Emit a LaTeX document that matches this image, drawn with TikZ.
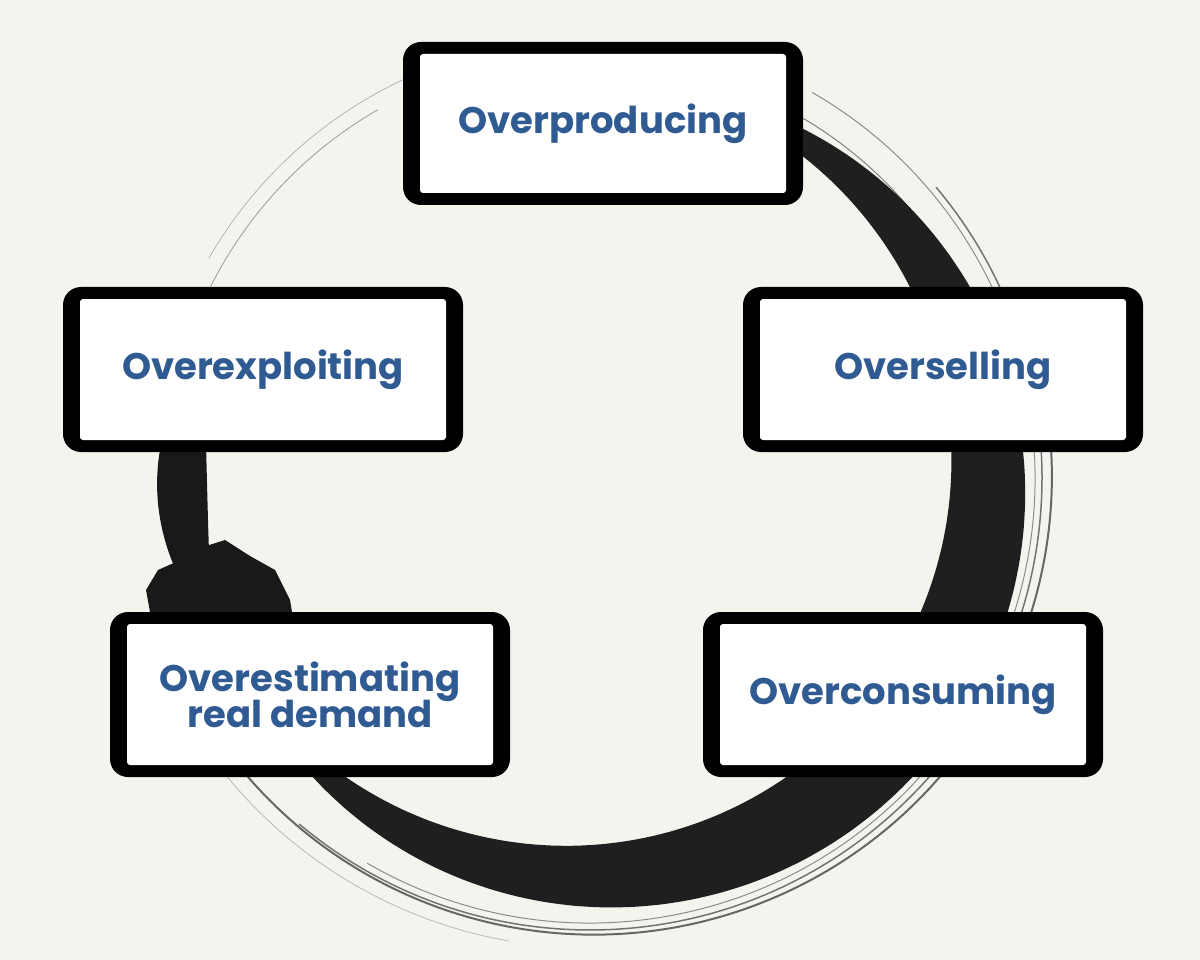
\documentclass[tikz,border=0pt]{standalone}
\usepackage{fontspec}
\setmainfont{Poppins}
\begin{document}
\begin{tikzpicture}[x=1pt,y=-1pt,
  ink/.style={draw=black!88,line cap=round},
  boxlbl/.style={font=\bfseries\fontsize{37}{42}\selectfont,text=blueT,align=center},
  ]
\definecolor{blueT}{HTML}{2F5A92}
\definecolor{bg}{HTML}{F4F4EF}
\fill[bg] (0,0) rectangle (1200,960);
\useasboundingbox (0,0) rectangle (1200,960);
% enso strokes (center 590,478)
\begin{scope}[shift={(590,478)},yscale=-1]
\draw[ink,black!40,line width=0.8] (120:425) arc[start angle=120,end angle=155,radius=425];
\draw[ink,black!35,line width=0.6] (112:440) arc[start angle=112,end angle=150,radius=440];
\draw[ink,black!50,line width=1] (70:418) arc[start angle=70,end angle=-110,radius=418];
\draw[ink,black!45,line width=1] (60:445) arc[start angle=60,end angle=-120,radius=445];
\draw[ink,black!55,line width=1.5] (40:452) arc[start angle=40,end angle=-130,radius=452];
\draw[ink,black!60,line width=2] (20:462) arc[start angle=20,end angle=-140,radius=458];
\draw[ink,black!30,line width=0.7] (-100:470) arc[start angle=-100,end angle=-160,radius=470];
\draw[ink,black!40,line width=0.8] (200:440) arc[start angle=200,end angle=215,radius=440];
% main tapered stroke
\fill[black!88] plot[smooth,samples=60,domain=78:-150] (\x:{398+42*sin((78-\x)*0.7895)})
  -- plot[smooth,samples=60,domain=-150:78] (\x:{398-42*sin((78-\x)*0.7895)}) -- cycle;
% left stroke
\fill[black!90] plot[smooth,samples=30,domain=203:160] (\x:{405+28*sin((203-\x)*4.186)})
  -- plot[smooth,samples=30,domain=160:203] (\x:{405-22*sin((203-\x)*4.186)}) -- cycle;
\end{scope}
% ragged ink blob at the end of the left stroke
\fill[black!90] (150,612) -- (146,590) -- (158,570) -- (176,562) -- (200,548) -- (225,540) -- (250,556) -- (275,570) -- (290,600) -- (292,612) -- cycle;
% boxes
\newcommand{\bx}[6]{%
  \fill[black,rounded corners=18] (#1,#2) rectangle (#3,#4);
  \fill[white,rounded corners=3] ({#1+17},{#2+12}) rectangle ({#3-17},{#4-12});
  \node[boxlbl] (#5) at ({(#1+#3)/2},{(#2+#4)/2}) {#6};}
\bx{403}{42}{803}{205}{prod}{Overproducing}
\bx{63}{287}{463}{452}{expl}{Overexploiting}
\bx{743}{287}{1143}{452}{sell}{Overselling}
\bx{110}{612}{510}{777}{est}{Overestimating\\[-6pt]real demand}
\bx{703}{612}{1103}{777}{cons}{Overconsuming}
\end{tikzpicture}
\end{document}
